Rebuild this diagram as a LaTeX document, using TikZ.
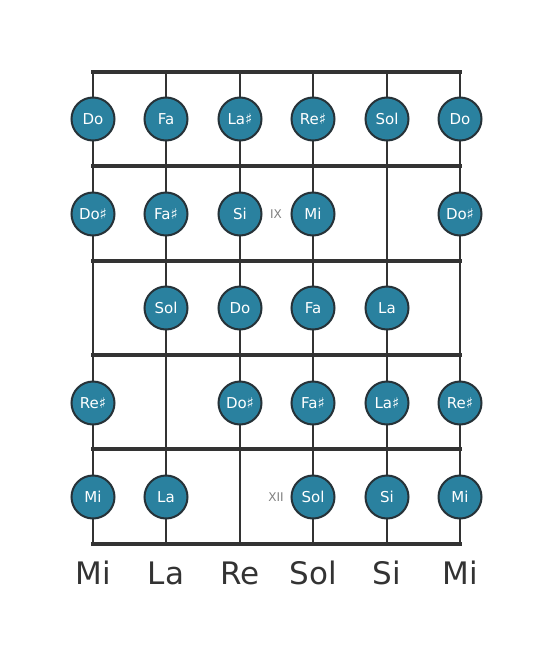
\documentclass[tikz,border=0pt]{standalone}
\usepackage{fontspec}
\setmainfont{DejaVu Sans}
\usetikzlibrary{positioning}
\definecolor{notefill}{HTML}{2A819F}
\definecolor{noteline}{HTML}{263238}
\definecolor{wire}{HTML}{333333}

\begin{document}
\begin{tikzpicture}[
    x=1pt, y=1pt,
    note/.style={circle, draw=noteline, line width=2pt, fill=notefill, text=white,
                 minimum size=43pt, inner sep=0pt, font=\fontsize{15}{16}\selectfont},
    strng/.style={wire, line width=2.6pt},
    fret/.style={wire, line width=4.4pt},
    tuning/.style={font=\fontsize{31}{32}\selectfont, text=wire},
    marker/.style={font=\fontsize{12}{13}\selectfont, text=gray}
  ]
  \useasboundingbox (0,0) rectangle (553,-656);

  % strings
  \foreach \i/\x in {1/93, 2/166, 3/240, 4/313, 5/387, 6/460} {
    \coordinate (s\i top) at (\x,-72);
    \coordinate (s\i bot) at (\x,-544);
    \draw[strng] (s\i top) -- (s\i bot);
  }

  % frets
  \foreach \j/\y in {0/72, 1/166, 2/261, 3/355, 4/449} {
    \coordinate (f\j l) at (93,-\y);
    \coordinate (f\j r) at (460,-\y);
    \draw[fret, line cap=rect] (f\j l) -- (f\j r);
  }
  \coordinate (f5 l) at (93,-544);
  \coordinate (f5 r) at (460,-544);
  \draw[wire, line width=3.6pt, line cap=rect] (f5 l) -- (f5 r);

  % fret markers
  \node[marker] (ix)  at (276,-214) {IX};
  \node[marker] (xii) at (276,-497) {XII};

  % notes
  \foreach \name/\x/\y/\txt in {
      a1/93/119/Do,  a2/166/119/Fa,  a3/240/119/La♯, a4/313/119/Re♯, a5/387/119/Sol, a6/460/119/Do,
      b1/93/214/Do♯, b2/166/214/Fa♯, b3/240/214/Si,  b4/313/214/Mi,  b6/460/214/Do♯,
      c2/166/308/Sol, c3/240/308/Do, c4/313/308/Fa,  c5/387/308/La,
      d1/93/403/Re♯, d3/240/403/Do♯, d4/313/403/Fa♯, d5/387/403/La♯, d6/460/403/Re♯,
      e1/93/497/Mi,  e2/166/497/La,  e4/313/497/Sol, e5/387/497/Si,  e6/460/497/Mi}
    \node[note] (\name) at (\x,-\y) {\txt};

  % open strings
  \node[tuning] (t1) at (93,-573)  {Mi};
  \node[tuning] (t2) at (166,-573) {La};
  \node[tuning] (t3) at (240,-573) {Re};
  \node[tuning] (t4) at (313,-573) {Sol};
  \node[tuning] (t5) at (387,-573) {Si};
  \node[tuning] (t6) at (460,-573) {Mi};
\end{tikzpicture}
\end{document}
